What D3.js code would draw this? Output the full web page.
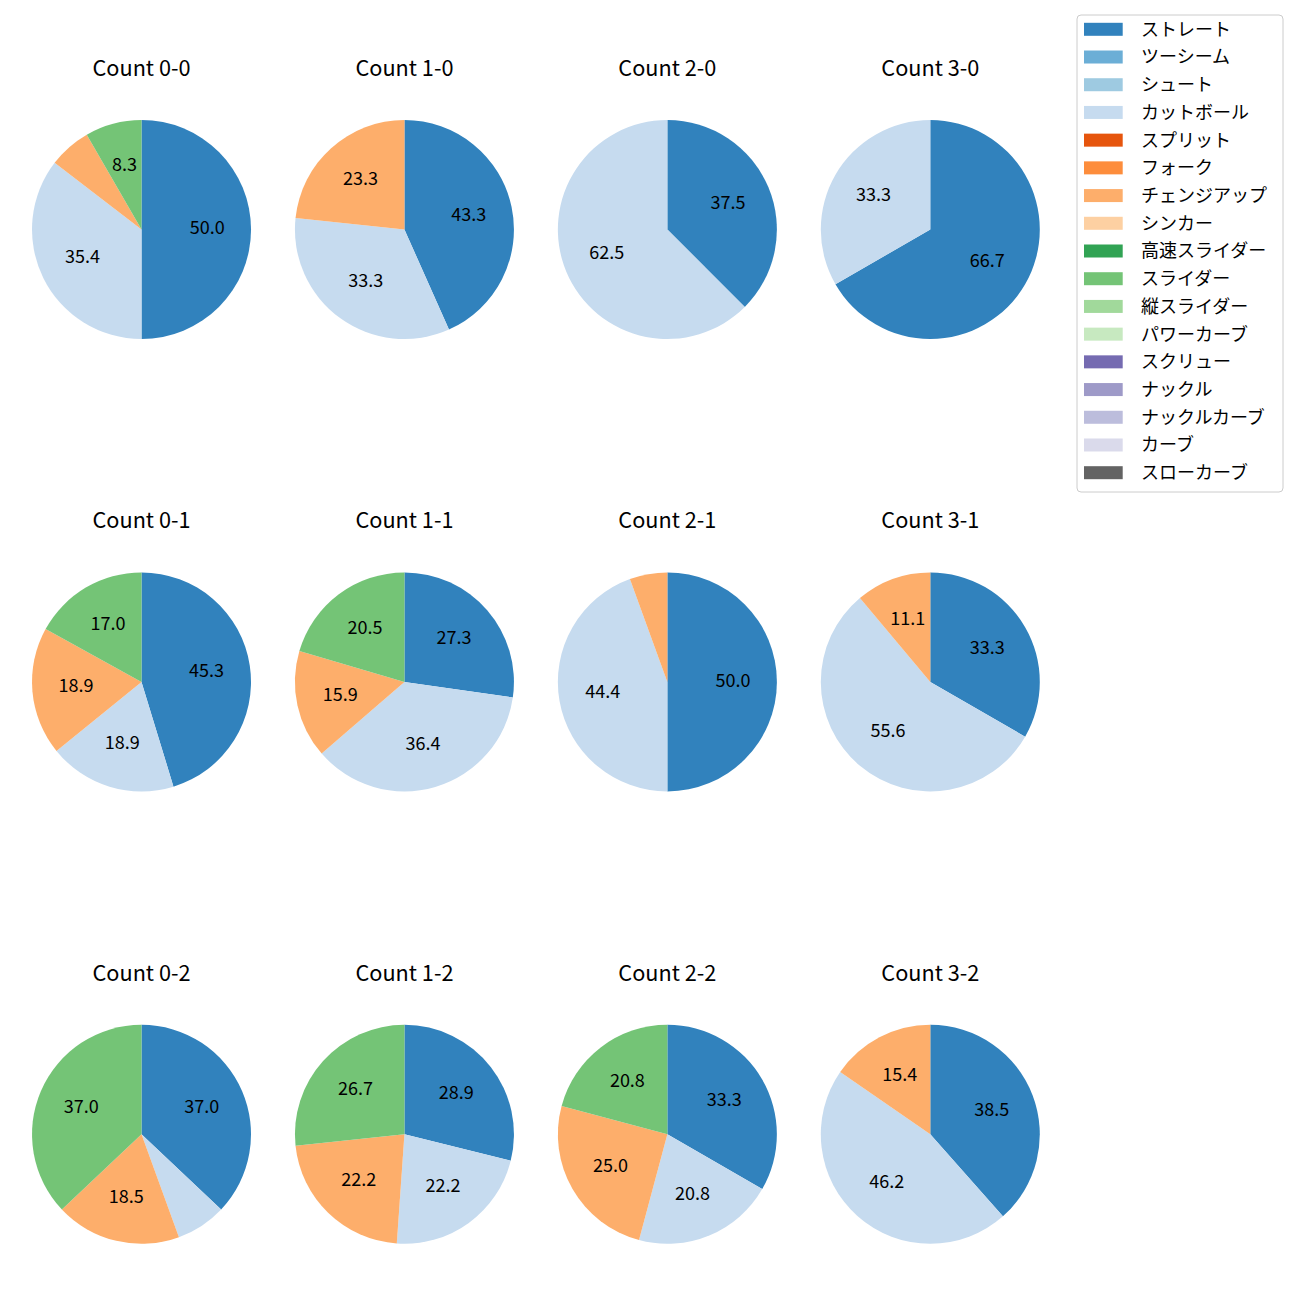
<!DOCTYPE html>
<html><head><meta charset="utf-8">
<script src="https://cdn.jsdelivr.net/npm/d3@7"></script>
<style>body{margin:0;background:#fff}svg{display:block}text{font-family:"Noto Sans CJK JP","Noto Sans",sans-serif}</style>
</head><body>
<script>
const pitchTypes = ["ストレート","ツーシーム","シュート","カットボール","スプリット","フォーク","チェンジアップ","シンカー","高速スライダー","スライダー","縦スライダー","パワーカーブ","スクリュー","ナックル","ナックルカーブ","カーブ","スローカーブ"];
const pitchColors = ["#3182bd","#6baed6","#9ecae1","#c6dbef","#e6550d","#fd8d3c","#fdae6b","#fdd0a2","#31a354","#74c476","#a1d99b","#c7e9c0","#756bb1","#9e9ac8","#bcbddc","#dadaeb","#636363"];
const countLabels = ["Count 0-0","Count 1-0","Count 2-0","Count 3-0","Count 0-1","Count 1-1","Count 2-1","Count 3-1","Count 0-2","Count 1-2","Count 2-2","Count 3-2"];
// pitch counts per situation (only non-zero types listed)
const straight = [24,13,3,2, 24,12,9,3, 10,13,8,5];
const cutter   = [17,10,5,1, 10,16,8,5,  2,10,5,6];
const changeup = [ 3, 7,0,0, 10, 7,1,1,  5,10,6,2];
const slider   = [ 4, 0,0,0,  9, 9,0,0, 10,12,5,0];
const minLabelPct = 8;

const W = 1300, H = 1300;
const svg = d3.select("body").append("svg").attr("width", W).attr("height", H);

const seriesByType = {"ストレート": straight, "カットボール": cutter, "チェンジアップ": changeup, "スライダー": slider};

const xScale = d3.scalePoint().domain([0,1,2,3]).range([141.5, 930.3]);
const yScale = d3.scalePoint().domain([0,1,2]).range([229.5, 1134.3]);
const R = 109.5;
const color = d3.scaleOrdinal().domain(pitchTypes).range(pitchColors);

const pie = d3.pie().sort(null).value(d => d.v).startAngle(0).endAngle(2*Math.PI);
const arc = d3.arc().innerRadius(0).outerRadius(R);
const labelArc = d3.arc().innerRadius(R*0.6).outerRadius(R*0.6);

countLabels.forEach((lab, i) => {
  const col = i % 4, row = Math.floor(i / 4);
  const g = svg.append("g").attr("transform", `translate(${xScale(col)},${yScale(row)})`);
  const data = pitchTypes.map((t, k) => ({t, v: seriesByType[t] ? seriesByType[t][i] : 0}));
  const total = d3.sum(data, d => d.v);
  const arcs = pie(data).filter(a => a.data.v > 0);
  g.selectAll("path").data(arcs).join("path")
    .attr("d", arc).attr("fill", d => color(d.data.t));
  g.selectAll("text.lbl").data(arcs.filter(a => a.data.v / total * 100 >= minLabelPct)).join("text")
    .attr("class","lbl")
    .attr("transform", d => `translate(${labelArc.centroid(d)})`)
    .attr("text-anchor","middle").attr("dy","0.26em")
    .attr("font-size", 18).attr("fill","#000")
    .text(d => (d.data.v / total * 100).toFixed(1));
  g.append("text").attr("x", 0).attr("y", -153.5).attr("text-anchor","middle")
    .attr("font-size", 21.7).attr("fill","#000").text(lab);
});

// legend
const lg = svg.append("g");
lg.append("rect").attr("x", 1077).attr("y", 15).attr("width", 206).attr("height", 477)
  .attr("rx", 4).attr("fill","#fff").attr("fill-opacity",0.8).attr("stroke","#cccccc").attr("stroke-width",1);
const ly = d3.scalePoint().domain(pitchTypes).range([29.3, 472.7]);
const items = lg.selectAll("g.item").data(pitchTypes).join("g").attr("class","item")
  .attr("transform", d => `translate(0,${ly(d)})`);
items.append("rect").attr("x", 1084).attr("y", -6.5).attr("width", 38.7).attr("height", 13).attr("fill", d => color(d));
items.append("text").attr("x", 1141).attr("dy","0.36em").attr("font-size", 18).attr("fill","#000").text(d => d);
</script>
</body></html>
